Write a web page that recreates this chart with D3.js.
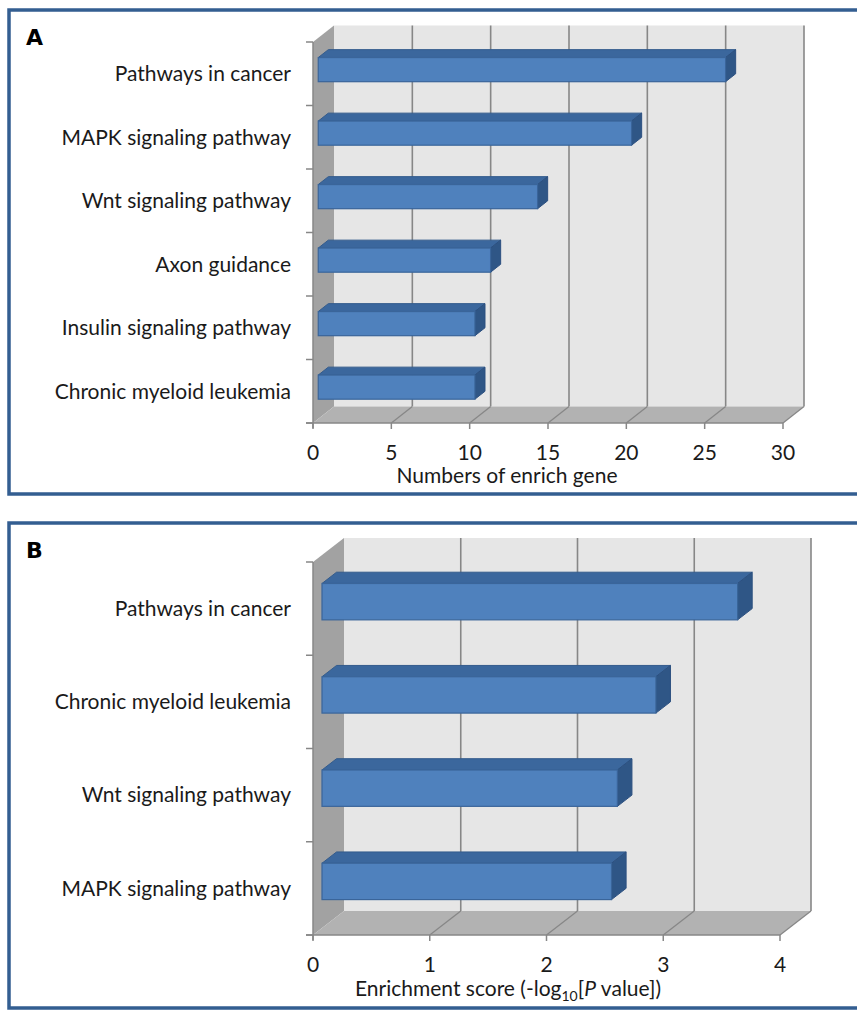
<!DOCTYPE html>
<html>
<head>
<meta charset="utf-8">
<script src="https://cdn.jsdelivr.net/npm/d3@7"></script>
<style>
  body { margin: 0; background: #fff; }
  text { font-family: Lato, "Open Sans", sans-serif; fill: #1a1a1a; }
</style>
</head>
<body>
<svg></svg>
<script>
// panel A data
var catsA = ["Pathways in cancer", "MAPK signaling pathway", "Wnt signaling pathway",
             "Axon guidance", "Insulin signaling pathway", "Chronic myeloid leukemia"];
var valsA = [26, 20, 14, 11, 10, 10];
var ticksA = [0, 5, 10, 15, 20, 25, 30];

// panel B data
var catsB = ["Pathways in cancer", "Chronic myeloid leukemia", "Wnt signaling pathway",
             "MAPK signaling pathway"];
var valsB = [3.56, 2.86, 2.53, 2.48];
var ticksB = [0, 1, 2, 3, 4];

var W = 857, H = 1011;
var svg = d3.select("svg").attr("width", W).attr("height", H);

var gridColor = "#878787";

function drawPanel(cfg) {
    var g = svg.append("g");

    // frame (right side runs off the page)
    g.append("path")
        .attr("d", "M" + (W + 5) + "," + cfg.boxTop + " H9 V" + cfg.boxBottom + " H" + (W + 5))
        .attr("fill", "none")
        .attr("stroke", "#335e91")
        .attr("stroke-width", 3.5);

    g.append("text")
        .attr("x", 26).attr("y", cfg.boxTop + 35)
        .style("font-family", "'DejaVu Sans', sans-serif")
        .style("font-weight", "bold")
        .style("font-size", "22px")
        .style("fill", "#000")
        .text(cfg.letter);

    var x = d3.scaleLinear()
        .domain([0, d3.max(cfg.ticks)])
        .range([cfg.left, cfg.right]);

    var y = d3.scaleBand()
        .domain(cfg.cats)
        .range([cfg.top, cfg.bottom])
        .paddingInner(0)
        .paddingOuter(0);

    var dx = cfg.dx, dy = cfg.dy;
    var x0 = x(0), xm = x(d3.max(cfg.ticks));

    // back wall
    g.append("rect")
        .attr("x", x0 + dx).attr("y", cfg.top + dy)
        .attr("width", xm - x0).attr("height", cfg.bottom - cfg.top)
        .attr("fill", "#e6e6e6");

    g.selectAll(".bgrid")
        .data(cfg.ticks.slice(1))
        .enter().append("line")
        .attr("x1", d => x(d) + dx).attr("x2", d => x(d) + dx)
        .attr("y1", cfg.top + dy).attr("y2", cfg.bottom + dy)
        .attr("stroke", gridColor).attr("stroke-width", 1.6);

    // left side wall
    g.append("polygon")
        .attr("points", [[x0, cfg.top], [x0 + dx, cfg.top + dy],
                         [x0 + dx, cfg.bottom + dy], [x0, cfg.bottom]].join(" "))
        .attr("fill", "#a2a2a2");

    // floor
    g.append("polygon")
        .attr("points", [[x0, cfg.bottom], [xm, cfg.bottom],
                         [xm + dx, cfg.bottom + dy], [x0 + dx, cfg.bottom + dy]].join(" "))
        .attr("fill", "#b2b2b2");

    g.selectAll(".fgrid")
        .data(cfg.ticks.slice(1))
        .enter().append("line")
        .attr("x1", d => x(d)).attr("x2", d => x(d) + dx)
        .attr("y1", cfg.bottom).attr("y2", cfg.bottom + dy)
        .attr("stroke", gridColor).attr("stroke-width", 1.3);

    // bars
    var f1 = cfg.f1, f2 = cfg.f2;
    var bh = y.bandwidth() * cfg.barFrac;
    var ddx = dx * (f2 - f1), ddy = dy * (f2 - f1);
    var bars = g.selectAll(".bar")
        .data(cfg.cats.map((c, i) => ({cat: c, val: cfg.vals[i]})))
        .enter().append("g");

    bars.each(function(d) {
        var b = d3.select(this);
        var xl = x(0) + dx * f1;
        var xr = x(d.val) + dx * f1;
        var yt = y(d.cat) + (y.bandwidth() - bh) / 2 + dy * f1;
        var yb = yt + bh;
        b.append("polygon")
            .attr("points", [[xl, yt], [xr, yt], [xr + ddx, yt + ddy], [xl + ddx, yt + ddy]].join(" "))
            .attr("fill", "#3b679d").attr("stroke", "#335b8c").attr("stroke-width", 1);
        b.append("polygon")
            .attr("points", [[xr, yt], [xr + ddx, yt + ddy], [xr + ddx, yb + ddy], [xr, yb]].join(" "))
            .attr("fill", "#2f5686").attr("stroke", "#2c5080").attr("stroke-width", 1);
        b.append("rect")
            .attr("x", xl).attr("y", yt)
            .attr("width", xr - xl).attr("height", bh)
            .attr("fill", "#4f81bd").attr("stroke", "#3a659a").attr("stroke-width", 1.2);
    });

    // front axes
    g.append("line")
        .attr("x1", x0).attr("x2", x0)
        .attr("y1", cfg.top).attr("y2", cfg.bottom + 5)
        .attr("stroke", gridColor).attr("stroke-width", 1.5);
    g.append("line")
        .attr("x1", x0 - 7).attr("x2", xm)
        .attr("y1", cfg.bottom).attr("y2", cfg.bottom)
        .attr("stroke", gridColor).attr("stroke-width", 1.5);

    var bounds = cfg.cats.map(c => y(c)).concat([cfg.bottom]);
    g.selectAll(".ytick")
        .data(bounds)
        .enter().append("line")
        .attr("x1", x0 - 7).attr("x2", x0)
        .attr("y1", d => d).attr("y2", d => d)
        .attr("stroke", gridColor).attr("stroke-width", 1.5);

    g.selectAll(".xtick")
        .data(cfg.ticks)
        .enter().append("line")
        .attr("x1", d => x(d)).attr("x2", d => x(d))
        .attr("y1", cfg.bottom).attr("y2", cfg.bottom + 6)
        .attr("stroke", gridColor).attr("stroke-width", 1.5);

    // labels
    g.selectAll(".ylab")
        .data(cfg.cats)
        .enter().append("text")
        .attr("x", 291)
        .attr("y", d => y(d) + y.bandwidth() / 2)
        .attr("dy", "0.35em")
        .attr("text-anchor", "end")
        .style("font-size", "21px")
        .text(d => d);

    g.selectAll(".xlab")
        .data(cfg.ticks)
        .enter().append("text")
        .attr("x", d => x(d))
        .attr("y", cfg.bottom + 30)
        .attr("dy", "0.35em")
        .attr("text-anchor", "middle")
        .style("font-size", "21px")
        .text(d => d);

    return g;
}

var gA = drawPanel({
    letter: "A", boxTop: 10, boxBottom: 494,
    cats: catsA, vals: valsA, ticks: ticksA,
    left: 313, right: 783, top: 42, bottom: 423,
    dx: 21, dy: -16.5, f1: 0.25, f2: 0.73, barFrac: 0.38
});
gA.append("text")
    .attr("x", 507).attr("y", 476).attr("dy", "0.35em")
    .attr("text-anchor", "middle")
    .style("font-size", "21px")
    .text("Numbers of enrich gene");

var gB = drawPanel({
    letter: "B", boxTop: 523, boxBottom: 1008,
    cats: catsB, vals: valsB, ticks: ticksB,
    left: 313, right: 780, top: 562, bottom: 935,
    dx: 31, dy: -24, f1: 0.29, f2: 0.76, barFrac: 0.39
});
var tB = gB.append("text")
    .attr("x", 508).attr("y", 989).attr("dy", "0.35em")
    .attr("text-anchor", "middle")
    .style("font-size", "21px");
tB.append("tspan").text("Enrichment score (-log");
tB.append("tspan").attr("dy", 5).style("font-size", "14px").text("10");
tB.append("tspan").attr("dy", -5).text("[");
tB.append("tspan").style("font-style", "italic").text("P");
tB.append("tspan").text(" value])");
</script>
</body>
</html>
